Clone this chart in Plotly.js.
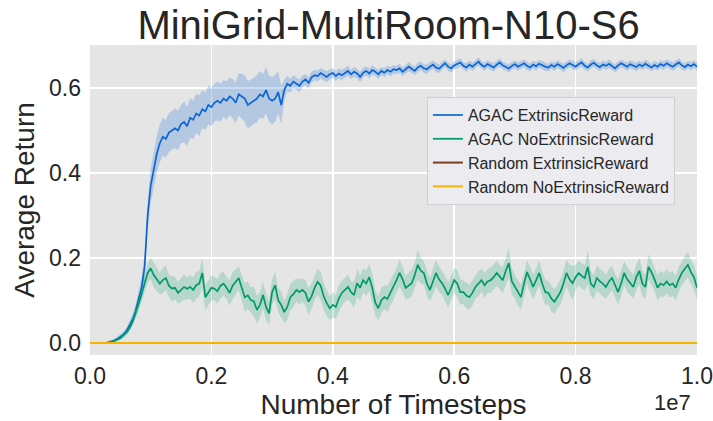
<!DOCTYPE html>
<html>
<head>
<meta charset="utf-8">
<script src="https://cdn.plot.ly/plotly-3.0.1.min.js"></script>
<style>html,body{margin:0;padding:0;background:#fff;}#chart{width:713px;height:421px;}</style>
</head>
<body>
<div id="chart"></div>
<script>
// Timesteps: 201 evaluation points, every 50,000 steps, from 0 to 1e7
const stepSize = 50000;
const nPoints = 201;

const seriesNames = ["AGAC ExtrinsicReward", "AGAC NoExtrinsicReward", "Random ExtrinsicReward", "Random NoExtrinsicReward"];

// AGAC ExtrinsicReward mean
const agacExtMean = [
0,0,0,0,0,0,0.002,0.004,0.006,0.01,
0.015,0.02,0.028,0.04,0.055,0.075,0.10,0.13,0.18,0.30,
0.37,0.41,0.445,0.47,0.485,0.48,0.495,0.50,0.505,0.50,
0.515,0.52,0.51,0.53,0.525,0.54,0.535,0.55,0.545,0.56,
0.555,0.565,0.57,0.565,0.575,0.57,0.58,0.575,0.565,0.585,
0.58,0.575,0.56,0.565,0.57,0.575,0.585,0.58,0.595,0.575,
0.57,0.575,0.59,0.56,0.595,0.61,0.605,0.615,0.61,0.605,
0.615,0.62,0.612,0.625,0.63,0.628,0.635,0.63,0.626,0.632,
0.635,0.628,0.634,0.63,0.636,0.64,0.632,0.638,0.634,0.626,
0.636,0.64,0.634,0.642,0.638,0.632,0.64,0.636,0.642,0.638,
0.644,0.642,0.646,0.638,0.644,0.65,0.645,0.64,0.648,0.652,
0.646,0.644,0.65,0.655,0.648,0.645,0.652,0.658,0.65,0.646,
0.653,0.656,0.66,0.652,0.648,0.655,0.65,0.656,0.662,0.654,
0.65,0.656,0.652,0.648,0.655,0.66,0.653,0.65,0.646,0.652,
0.656,0.65,0.654,0.658,0.652,0.648,0.655,0.651,0.657,0.653,
0.65,0.648,0.654,0.65,0.656,0.652,0.647,0.653,0.658,0.654,
0.65,0.656,0.66,0.652,0.648,0.655,0.659,0.653,0.649,0.655,
0.652,0.657,0.651,0.646,0.653,0.658,0.654,0.65,0.656,0.652,
0.649,0.655,0.651,0.657,0.653,0.648,0.654,0.65,0.656,0.652,
0.658,0.654,0.65,0.655,0.66,0.653,0.649,0.655,0.651,0.656,
0.65
];
// AGAC ExtrinsicReward band half-width
const agacExtSpread = [
0,0,0,0,0,0,0.002,0.003,0.004,0.005,
0.006,0.007,0.008,0.01,0.012,0.015,0.02,0.025,0.03,0.035,
0.04,0.04,0.042,0.045,0.045,0.044,0.046,0.045,0.047,0.046,
0.045,0.048,0.046,0.047,0.045,0.046,0.048,0.045,0.044,0.046,
0.045,0.044,0.046,0.045,0.043,0.045,0.044,0.046,0.048,0.05,
0.052,0.055,0.056,0.055,0.054,0.056,0.055,0.053,0.055,0.054,
0.056,0.055,0.05,0.045,0.025,0.018,0.016,0.015,0.014,0.015,
0.014,0.013,0.014,0.013,0.012,0.013,0.012,0.012,0.013,0.012,
0.012,0.011,0.012,0.012,0.011,0.012,0.011,0.012,0.011,0.012,
0.011,0.011,0.012,0.011,0.01,0.011,0.01,0.011,0.01,0.011,
0.01,0.01,0.011,0.01,0.01,0.011,0.01,0.01,0.011,0.01,
0.01,0.011,0.01,0.01,0.011,0.01,0.01,0.009,0.01,0.01,
0.009,0.01,0.01,0.009,0.01,0.009,0.01,0.009,0.01,0.009,
0.01,0.009,0.009,0.01,0.009,0.01,0.009,0.009,0.01,0.009,
0.009,0.01,0.009,0.009,0.01,0.009,0.009,0.01,0.009,0.009,
0.01,0.009,0.009,0.01,0.009,0.009,0.01,0.009,0.009,0.01,
0.009,0.009,0.01,0.009,0.009,0.01,0.009,0.009,0.01,0.009,
0.009,0.01,0.009,0.009,0.01,0.009,0.009,0.01,0.009,0.009,
0.01,0.009,0.009,0.01,0.009,0.009,0.01,0.009,0.009,0.01,
0.009,0.009,0.01,0.009,0.009,0.01,0.009,0.009,0.01,0.009,
0.009
];

// AGAC NoExtrinsicReward mean
const agacNoExtMean = [
0,0,0,0,0,0,0.001,0.003,0.005,0.008,
0.012,0.018,0.025,0.035,0.05,0.07,0.09,0.115,0.14,0.165,
0.176,0.16,0.15,0.14,0.148,0.153,0.135,0.128,0.13,0.118,
0.125,0.132,0.128,0.132,0.125,0.136,0.14,0.165,0.108,0.118,
0.13,0.128,0.122,0.135,0.14,0.13,0.118,0.135,0.145,0.153,
0.13,0.108,0.112,0.101,0.098,0.078,0.09,0.113,0.085,0.07,
0.12,0.136,0.101,0.09,0.073,0.085,0.108,0.115,0.125,0.12,
0.125,0.118,0.097,0.11,0.13,0.144,0.135,0.11,0.094,0.082,
0.09,0.085,0.105,0.118,0.125,0.132,0.12,0.113,0.141,0.13,
0.148,0.14,0.155,0.13,0.095,0.082,0.101,0.108,0.104,0.118,
0.132,0.148,0.165,0.15,0.13,0.135,0.141,0.16,0.184,0.17,
0.165,0.14,0.125,0.145,0.165,0.15,0.141,0.128,0.113,0.13,
0.148,0.14,0.12,0.12,0.112,0.108,0.118,0.132,0.14,0.148,
0.136,0.145,0.148,0.155,0.165,0.155,0.148,0.17,0.188,0.145,
0.132,0.118,0.108,0.14,0.167,0.15,0.132,0.148,0.165,0.14,
0.12,0.118,0.105,0.097,0.11,0.12,0.14,0.165,0.15,0.141,
0.155,0.165,0.158,0.153,0.179,0.14,0.132,0.153,0.145,0.14,
0.132,0.145,0.153,0.135,0.12,0.14,0.165,0.15,0.14,0.132,
0.155,0.17,0.14,0.132,0.179,0.167,0.15,0.13,0.14,0.136,
0.145,0.136,0.14,0.13,0.15,0.165,0.175,0.184,0.167,0.155,
0.13
];
// AGAC NoExtrinsicReward band half-width
const agacNoExtSpread = [
0,0,0,0,0,0,0.001,0.002,0.003,0.004,
0.005,0.006,0.007,0.008,0.01,0.012,0.015,0.018,0.02,0.022,
0.025,0.03,0.028,0.025,0.03,0.028,0.026,0.03,0.027,0.025,
0.028,0.03,0.026,0.028,0.03,0.032,0.03,0.035,0.03,0.028,
0.03,0.027,0.029,0.03,0.028,0.026,0.03,0.032,0.03,0.028,
0.03,0.034,0.032,0.03,0.035,0.033,0.03,0.032,0.03,0.028,
0.03,0.032,0.028,0.03,0.026,0.03,0.032,0.03,0.028,0.03,
0.027,0.03,0.032,0.03,0.028,0.03,0.034,0.032,0.03,0.028,
0.03,0.028,0.032,0.03,0.028,0.03,0.026,0.03,0.032,0.03,
0.028,0.03,0.032,0.034,0.03,0.028,0.03,0.028,0.03,0.029,
0.03,0.028,0.032,0.03,0.028,0.03,0.032,0.03,0.035,0.03,
0.028,0.03,0.027,0.03,0.032,0.03,0.028,0.03,0.03,0.028,
0.03,0.032,0.03,0.028,0.03,0.029,0.03,0.028,0.03,0.027,
0.03,0.028,0.03,0.029,0.03,0.028,0.03,0.032,0.035,0.03,
0.028,0.03,0.029,0.03,0.028,0.03,0.03,0.028,0.03,0.029,
0.03,0.028,0.03,0.029,0.028,0.03,0.03,0.032,0.035,0.04,
0.03,0.028,0.03,0.029,0.04,0.03,0.028,0.03,0.029,0.03,
0.028,0.03,0.029,0.028,0.03,0.03,0.028,0.03,0.029,0.028,
0.03,0.032,0.03,0.028,0.03,0.029,0.028,0.03,0.03,0.028,
0.029,0.028,0.03,0.029,0.03,0.028,0.03,0.03,0.028,0.03,
0.028
];

// Random agents stay at zero return throughout
const randomExtMean = new Array(nPoints).fill(0);
const randomNoExtMean = new Array(nPoints).fill(0);

const seriesColors = ["#0a66d6", "#009a6a", "#7a3f1f", "#f5b400"];
const bandColors = ["rgba(10,102,214,0.22)", "rgba(0,154,106,0.2)"];

const xTickVals = [0, 0.2e7, 0.4e7, 0.6e7, 0.8e7, 1.0e7];
const xTickText = ["0.0", "0.2", "0.4", "0.6", "0.8", "1.0"];
const yTickVals = [0, 0.2, 0.4, 0.6];
const yTickText = ["0.0", "0.2", "0.4", "0.6"];

const steps = [];
for (let i = 0; i < nPoints; i++) steps.push(i * stepSize);

function band(mean, spread, color) {
  const lo = mean.map((v, i) => Math.max(0, v - spread[i]));
  const hi = mean.map((v, i) => v + spread[i]);
  return [
    {x: steps, y: lo, type: "scatter", mode: "lines", line: {width: 0}, showlegend: false, hoverinfo: "skip"},
    {x: steps, y: hi, type: "scatter", mode: "lines", line: {width: 0}, fill: "tonexty", fillcolor: color, showlegend: false, hoverinfo: "skip"}
  ];
}

const traces = [];
traces.push(...band(agacExtMean, agacExtSpread, bandColors[0]));
traces.push({x: steps, y: agacExtMean, type: "scatter", mode: "lines", name: seriesNames[0], line: {color: seriesColors[0], width: 1.7}});
traces.push(...band(agacNoExtMean, agacNoExtSpread, bandColors[1]));
traces.push({x: steps, y: agacNoExtMean, type: "scatter", mode: "lines", name: seriesNames[1], line: {color: seriesColors[1], width: 1.7}});
traces.push({x: steps, y: randomExtMean, type: "scatter", mode: "lines", name: seriesNames[2], line: {color: seriesColors[2], width: 2}});
traces.push({x: steps, y: randomNoExtMean, type: "scatter", mode: "lines", name: seriesNames[3], line: {color: seriesColors[3], width: 2}});

const font = "Liberation Sans, Arial, sans-serif";
const layout = {
  width: 713, height: 421,
  margin: {l: 90, r: 16, t: 45, b: 66},
  paper_bgcolor: "#ffffff",
  plot_bgcolor: "#e5e5e5",
  font: {family: font, color: "#262626"},
  title: {text: "MiniGrid-MultiRoom-N10-S6", font: {size: 40, family: font, color: "#262626"}, x: 0.545, xanchor: "center", y: 0.94, yanchor: "middle"},
  xaxis: {
    range: [0, 1e7], tickvals: xTickVals, ticktext: xTickText,
    tickfont: {size: 23}, showgrid: true, gridcolor: "#ffffff", gridwidth: 1.5,
    zeroline: false, showline: false, ticks: "", ticklabelstandoff: 5,
    title: {text: "Number of Timesteps", font: {size: 28}, standoff: 0}
  },
  yaxis: {
    range: [-0.028, 0.701], tickvals: yTickVals, ticktext: yTickText,
    tickfont: {size: 23}, showgrid: true, gridcolor: "#ffffff", gridwidth: 1.5,
    zeroline: false, showline: false, ticks: "", ticklabelstandoff: 8,
    title: {text: "Average Return", font: {size: 28}, standoff: 6}
  },
  legend: {
    x: 0.555, y: 0.832, xanchor: "left", yanchor: "top", traceorder: "normal",
    bgcolor: "#ebebf0", bordercolor: "#cfcfd4", borderwidth: 1,
    font: {size: 16, color: "#262626"}, tracegroupgap: 0
  },
  annotations: [{
    text: "1e7", xref: "paper", yref: "paper", x: 0.993, y: -0.105,
    xanchor: "right", yanchor: "top", showarrow: false, font: {size: 22, color: "#262626"}
  }],
  showlegend: true
};

Plotly.newPlot("chart", traces, layout, {displayModeBar: false, staticPlot: true});
</script>
</body>
</html>
